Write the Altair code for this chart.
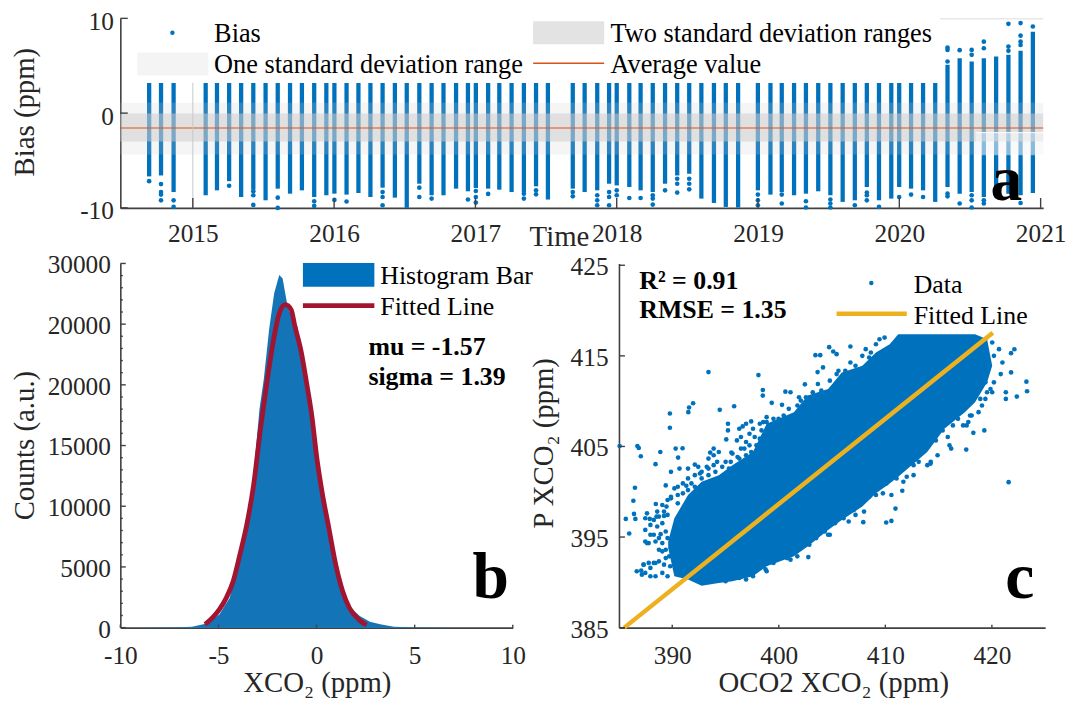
import altair as alt
import pandas as pd

SERIF = "Liberation Serif"
BLUE = "#0072BD"
AXC = "#404040"
TXT = "#262626"

# ---------- Panel a ----------
col_t = [2014.691,2014.775,2014.864,2015.091,2015.171,2015.257,2015.342,2015.428,2015.515,2015.601,2015.688,2015.772,2015.859,2015.945,
         2016.002,2016.088,2016.172,2016.257,2016.343,2016.43,2016.514,2016.603,2016.69,2016.774,2016.863,2016.947,
         2017.003,2017.09,2017.169,2017.256,2017.343,2017.429,2017.513,2017.689,2017.773,2017.862,2017.946,
         2018.0,2018.089,2018.169,2018.255,2018.342,2018.428,2018.513,2018.599,2018.688,2018.772,2018.859,2018.999,
         2019.088,2019.168,2019.255,2019.339,2019.426,2019.512,2019.599,2019.685,2019.77,2019.856,2019.943,2019.999,
         2020.083,2020.168,2020.254,2020.341,2020.427,2020.512,2020.598,2020.685,2020.772,2020.858,2020.945]
col_top = [3.18]*64 + [5.1,5.8,5.45,5.8,5.97,6.15,6.57,8.59]
col_end = [-6.68,-6.58,-8.33,-8.67,-8.15,-7.18,-8.85,-8.08,-9.2,-7.97,-8.5,-8.15,-8.85,-8.67,
           -8.5,-8.6,-8.43,-8.85,-7.87,-8.92,-10,-7.45,-8.67,-8.67,-7.97,-8.25,
           -7.9,-7.97,-8.08,-8.33,-8.33,-7.73,-9.12,-7.97,-8.33,-8.15,-7.45,
           -7.63,-7.8,-8.15,-8.33,-7.45,-6.58,-6.4,-9.02,-9.48,-9.9,-9.96,-8.15,
           -8.6,-8.33,-8.67,-8.5,-8.25,-8.67,-9.37,-9.2,-7.8,-9.2,-9.02,-7.8,
           -7.97,-8.15,-9.37,-7.8,-8.5,-8.33,-8.85,-8.5,-8.5,-8.67,-8.43]
out_t = [2014.691,2014.775,2014.775,2014.775,2014.775,2014.864,2014.864,2015.257,2015.428,2015.428,2015.428,2015.601,2015.601,
         2015.859,2015.859,2016.002,2016.088,2016.343,2016.343,2016.343,2016.603,2016.603,2016.69,2016.947,
         2017.003,2017.003,2017.003,2017.09,2017.343,2017.343,2017.429,2017.429,2017.689,2017.689,
         2017.862,2017.862,2017.862,2017.946,2017.946,2017.946,2018.0,2018.0,2018.089,2018.169,2018.255,2018.255,2018.255,
         2018.342,2018.428,2018.428,2018.428,2018.513,2018.513,2018.513,2018.999,2018.999,2018.999,
         2019.168,2019.168,2019.339,2019.339,2019.512,2019.512,2019.512,2019.685,2019.77,2019.77,2019.77,2019.856,
         2019.999,2020.083,2020.168,2020.341,2020.341,2020.341,2020.341,2020.341,2020.427,2020.427,
         2020.512,2020.512,2020.512,2020.512,2020.512,2020.598,2020.598,2020.598,2020.598,
         2020.772,2020.772,2020.772,2020.858,2020.858,2020.858,2020.858,2020.858,2020.945]
out_v = [-7.18,-7.49,-8.33,-8.6,-9.2,-9.2,-9.9,-7.66,-8.25,-8.67,-9.69,-8.92,-10,
         -9.3,-9.79,-9.16,-9.33,-8.33,-8.85,-9.72,-7.87,-8.85,-9.02,-9.12,
         -8.22,-8.85,-9.44,-8.53,-8.5,-9.02,-8.15,-8.57,-8.33,-8.78,
         -8.67,-9.2,-9.72,-8.33,-8.85,-9.72,-8.15,-8.67,-8.96,-8.96,-8.67,-9.02,-9.65,
         -8.15,-6.93,-7.45,-8.39,-6.93,-7.45,-8.04,-8.6,-9.2,-9.72,
         -8.6,-9.54,-9.3,-9.96,-9.12,-9.54,-9.96,-9.72,-8.39,-8.67,-9.2,-9.9,
         -8.85,-8.6,-8.85,6.91,6.67,5.45,-8.5,-8.78,6.64,-9.54,
         6.67,6.15,-8.67,-9.2,-9.96,7.54,6.84,-9.2,-9.54,
         9.42,7.02,6.57,9.5,8.17,7.54,7.19,-9.48,9.14]
years = [2015,2016,2017,2018,2019,2020,2021]
band_2sd = [-0.05,-3.0]
band_1sd = [1.09,-4.38]
mean_bias = -1.57
bias_ticks = [-10,0,10]

# ---------- Panel b ----------
hist_x = [-9,-7.04,-6.35,-5.65,-4.95,-4.43,-3.91,-3.56,-3.21,-2.91,-2.69,-2.42,-2.16,-1.9,-1.73,-1.46,-1.29,-1.15,-0.98,-0.77,-0.51,-0.24,0.02,0.28,0.63,0.98,1.33,1.67,2.2,2.72,3.24,3.94,4.81,7]
hist_y = [0,27,82,327,1090,2450,5730,8450,12540,17990,20450,24540,27540,29040,28770,26310,25770,24810,24810,22770,20040,17040,13630,11180,8450,5450,3130,1770,950,490,270,82,27,0]
fit_x = [-5.68,-5.3,-4.95,-4.6,-4.25,-3.91,-3.56,-3.21,-2.86,-2.51,-2.16,-1.9,-1.59,-1.29,-1.12,-0.77,-0.51,-0.24,0.02,0.28,0.63,0.98,1.33,1.67,2.2,2.55]
fit_y = [270,820,1500,2450,3820,6000,8450,11730,16360,20450,24000,25900,26600,26180,24950,22630,20180,17450,13900,11180,8180,5180,3000,1640,600,220]
b_xticks = [-10,-5,0,5,10]
b_yticks = [0,5000,10000,15000,20000,25000,30000]
b_minor = [v*1000 for v in range(0,31) if v % 5]

# ---------- Panel c ----------
cloud_x = [389.62,390.2,391.48,392.76,394.37,395.65,397.57,398.86,401.42,402.71,404.63,405.91,407.84,409.12,410.41,411.21,413.93,415.54,417.46,418.42,419.55,420.03]
cloud_hi = [394.51,397.07,399.64,401.1,401.83,402.93,404.39,407.5,408.78,410.61,411.34,413.17,413.9,415.37,416.28,417.38,417.38,417.38,417.38,417.38,416.83,413.9]
cloud_lo = [393.78,390.67,390.31,389.61,389.94,390.12,390.67,391.77,392.87,393.96,395.79,396.89,398.36,399.82,400.92,401.65,404.39,406.95,408.78,409.88,412.08,413.9]
pts_x = [385.06,386.73,386.86,387.05,386.5,386.35,386.41,385.64,386.54,385.96,388.43,388.88,389.78,389.78,391.51,391.58,391.96,393.4,398.09,395.81,394.46,390.32,390.97,390.55,389.39,388.46,
         421.57,423.24,423.3,422.34,421.8,422.11,421.8,419.29,417.59,418.26,410.08,410.57,407.93,402.77,401.74,398.76,410.95,411.59,404.73,405.11,405.43,403.44,403.89,406.72,402.45,403.64,404.15,
         398.5,398.5,399.34,400.3,400.62,401.1,401.9,395.23,395.23,396.61,397.41,398.54,395.07,396.07,396.93,398.22,393.89,393.56,395.55,396.29,392.12,391.48,390.68,389.88,391.32,390.52,389.88,389.46,390.52,
         387.63,388.53,387.47,387.63,387.31,386.67,387.95,388.75,389.07,388.43,387.95,387.15,
         420.03,420.99,420.83,421.31,421.31,420.03,419.39,418.1,417.3,416.18,414.25,412.65,410.57,409.12,407.2,404.63,402.71,
         387.47,387.89,388.27,388.75,389.23,389.56,389.07,388.59,388.27,388.91,389.39,389.56,387.47,387.79,389.07,389.39,389.72,388.75,388.27,387.79,387.31,387.09,387.47,388.43,389.07,389.56,389.81,389.23,
         389.88,390.52,391.0,391.48,392.12,392.76,393.4,394.05,394.85,395.33,395.97,392.12,392.76,393.4,393.89,394.37,395.01,395.65,396.45,396.93,397.25,397.74,398.54,396.29,396.93,397.58,398.22,398.86,399.5,400.46,401.75,402.55,403.19,403.99,404.79,405.43,406.24,407.2,407.84,408.64,409.12,409.93,410.73,
         419.39,419.87,418.91,419.07,417.95,417.79,416.82,416.34,415.38,415.86,414.74,414.26,413.13,412.65,412.01,411.05,410.09,408.48,407.52,407.04,406.08,405.27,404.31,403.51,402.07,400.78,399.5,397.58,396.29,395.01,
         392.44,393.24,391.48,391.0,390.2,391.8,392.6,394.21,394.69,393.4,393.89,395.49,396.13,396.77,397.41,397.9,398.38,397.25,396.45,398.86,399.98,400.94,402.07,403.67,405.6,406.72,408.16,408.48,409.45,
         388.59,389.07,389.56,389.23,387.95,388.43,388.75,389.39,387.95,
         420.19,419.55,418.75,417.63,416.02,414.9,413.94,411.69,409.77,408.0,406.56,404.79,402.87,401.1,398.86,396.93,420.67,420.19]
pts_y = [405.05,405.05,404.83,403.92,400.44,399.01,397.55,397.0,397.0,395.39,403.04,404.39,407.06,408.64,408.78,409.3,409.77,413.21,412.88,409.44,409.04,404.76,404.8,403.77,400.7,398.65,
         401.06,412.15,411.09,410.5,413.17,415.73,415.3,406.77,404.65,406.5,396.6,396.78,396.64,392.79,392.87,391.44,398.14,400.11,415.96,415.48,415.19,415.08,415.08,416.03,411.86,413.21,413.72,
         411.23,410.61,409.81,409.59,411.05,410.98,410.43,407.5,406.77,407.21,407.76,407.69,405.78,405.67,405.49,405.86,404.76,404.32,404.32,403.66,403.0,402.56,402.56,402.2,400.66,400.55,399.27,398.36,398.72,
         397.62,397.26,395.79,394.33,391.95,391.22,395.25,394.88,393.42,392.13,390.67,390.85,
         416.47,414.27,412.99,410.98,410.25,410.98,410.25,408.42,407.32,404.76,403.11,401.83,399.64,399.64,397.44,395.25,394.51,
         397.07,397.0,396.89,397.26,397.33,397.44,396.53,396.16,395.25,395.32,395.61,394.88,394.51,394.33,394.33,393.6,392.87,392.32,392.14,392.14,391.95,391.29,391.04,390.67,391.04,390.67,391.77,391.95,
         399.45,399.64,399.82,400.18,400.55,401.47,401.83,402.2,401.47,402.56,402.75,401.83,402.2,402.56,404.03,404.39,403.3,404.21,404.76,404.03,405.12,406.04,405.86,406.95,407.5,406.95,407.5,407.69,408.05,408.42,409.52,410.43,410.98,411.16,412.26,412.99,413.36,413.91,415.0,415.37,416.28,417.02,416.28,
         412.08,411.34,410.25,409.52,408.42,407.69,408.05,407.32,406.77,406.04,405.67,403.3,403.3,402.93,401.65,401.47,400.92,399.45,398.54,397.99,397.07,396.53,395.61,394.88,393.78,392.68,392.14,390.67,390.49,390.12,
         402.75,402.75,401.47,400.92,400.37,400.92,402.01,403.3,402.75,403.66,402.93,403.3,403.84,404.76,404.39,405.12,406.77,406.4,406.04,408.23,408.05,409.15,410.06,411.89,413.36,414.27,415.74,414.82,416.83,
         397.81,398.54,399.09,397.81,396.34,394.51,393.6,392.68,391.59,
         412.08,410.98,408.78,407.32,405.12,404.03,402.93,401.1,399.82,397.81,396.71,395.25,394.15,392.5,391.22,390.31,415.74,415.0]
line_x = [385.5,420.09]
line_y = [385,417.56]
c_xticks = [390,400,410,420]
c_yticks = [385,395,405,415,425]


def label(text, x, y, size=26.5, weight="normal", color="black", align="left", baseline="middle"):
    return alt.Chart(pd.DataFrame({"t": [text]})).mark_text(
        font=SERIF, fontSize=size, fontWeight=weight, color=color, align=align, baseline=baseline
    ).encode(x=alt.value(x), y=alt.value(y), text="t:N")


def swatch_rect(x, x2, y, y2, color):
    return alt.Chart(pd.DataFrame({"a": [0]})).mark_rect(color=color).encode(
        x=alt.value(x), x2=alt.value(x2), y=alt.value(y), y2=alt.value(y2))


def swatch_line(x, x2, y, color, w):
    return alt.Chart(pd.DataFrame({"a": [0]})).mark_rule(color=color, strokeWidth=w).encode(
        x=alt.value(x), x2=alt.value(x2), y=alt.value(y))


def swatch_dot(x, y):
    return alt.Chart(pd.DataFrame({"a": [0]})).mark_point(filled=True, color=BLUE, size=20, opacity=1).encode(
        x=alt.value(x), y=alt.value(y))


def xticks_in(vals, sx, h, n, color=AXC):
    return alt.Chart(pd.DataFrame({"v": vals})).mark_rule(color=color, strokeWidth=1.4).encode(
        x=alt.X("v:Q", scale=sx), y=alt.value(h), y2=alt.value(h - n))


def yticks_in(vals, sy, n, color=AXC):
    return alt.Chart(pd.DataFrame({"v": vals})).mark_rule(color=color, strokeWidth=1.4).encode(
        y=alt.Y("v:Q", scale=sy), x=alt.value(0), x2=alt.value(n))


def xaxis(vals, title, tx, ty, pad, expr="''+datum.value"):
    return alt.Axis(values=vals, title=title, titleX=tx, titleY=ty, titleFont=SERIF, titleFontSize=29,
                    titleFontWeight="normal", titleColor=TXT, titleAlign="center", titleBaseline="alphabetic",
                    labelFont=SERIF, labelFontSize=25.5, labelColor=TXT, labelPadding=pad, labelExpr=expr, labelAngle=0,
                    ticks=False, grid=False, domainColor=AXC, domainWidth=1.6, labelOverlap=False, labelFlush=False)


def yaxis(vals, title, tx, ty, pad, off, expr="''+datum.value"):
    return alt.Axis(values=vals, title=title, titleX=tx, titleY=ty, titleFont=SERIF, titleFontSize=29,
                    titleFontWeight="normal", titleColor=TXT, titleAngle=270, titleAlign="center", titleBaseline="alphabetic",
                    labelFont=SERIF, labelFontSize=25.5, labelColor=TXT, labelPadding=pad, labelExpr=expr, labelOffset=off,
                    ticks=False, grid=False, domainColor=AXC, domainWidth=1.6, labelOverlap=False, labelFlush=False)


# ---------- build panel a ----------
AW, AH = 930, 191
sxa = alt.Scale(domain=[2014.487, 2021.018], nice=False, zero=False)
sya = alt.Scale(domain=[-10, 10], nice=False, zero=False)
cols = pd.DataFrame({"t": col_t, "top": col_top, "end": col_end})
outs = pd.DataFrame({"t": out_t, "v": out_v})
a_cols = alt.Chart(cols).mark_rule(color=BLUE, strokeWidth=4.3).encode(
    x=alt.X("t:Q", scale=sxa, axis=xaxis(years, "Time", 442, 37.5, 13.5)),
    y=alt.Y("top:Q", scale=sya, axis=yaxis(bias_ticks, "Bias (ppm)", -87, 94, 7, 3)),
    y2="end:Q")
a_out = alt.Chart(outs).mark_point(filled=True, color=BLUE, size=22, opacity=1).encode(
    x=alt.X("t:Q", scale=sxa), y=alt.Y("v:Q", scale=sya))


def band(vals, op):
    return alt.Chart(pd.DataFrame({"a": [vals[0]], "b": [vals[1]]})).mark_rect(color="#CCCCCC", opacity=op).encode(
        x=alt.value(0), x2=alt.value(AW), y=alt.Y("a:Q", scale=sya), y2="b:Q")


a_mean = alt.Chart(pd.DataFrame({"v": [mean_bias]})).mark_rule(color="#D95319", strokeWidth=1.2).encode(
    x=alt.value(0), x2=alt.value(AW), y=alt.Y("v:Q", scale=sya))
a_patch = alt.Chart(pd.DataFrame({"a": [0]})).mark_rect(fill="white", fillOpacity=0.45).encode(
    x=alt.value(862), x2=alt.value(930), y=alt.value(115.2), y2=alt.value(138))
a_grid = alt.Chart(pd.DataFrame({"v": [2015]})).mark_rule(color="#C8C8C8", strokeWidth=1).encode(
    x=alt.X("v:Q", scale=sxa), y=alt.value(65), y2=alt.value(AH))
panel_a = alt.layer(
    a_cols, a_out, band(band_1sd, 0.2), band(band_2sd, 0.5), a_mean, a_patch, a_grid,
    swatch_line(862, 930, 115.2, "white", 1),
    xticks_in(years, sxa, AH, 10), yticks_in(bias_ticks, sya, 7.5),
    swatch_line(826, AW, 0.5, "#DCDCDC", 1),
    swatch_dot(52.5, 14.5), label("Bias", 94.5, 16),
    swatch_rect(17, 88.7, 34.5, 57.5, "#F4F4F4"), label("One standard deviation range", 94.5, 47),
    swatch_rect(416, 487.6, 3, 26, "#E3E3E3"), label("Two standard deviation ranges", 494, 16),
    swatch_line(416, 487.6, 45.2, "#D95319", 1.4), label("Average value", 494, 47),
    label("a", 877, 183.5, size=64, weight="bold", baseline="alphabetic"),
).properties(width=AW, height=AH)

# ---------- build panel b ----------
BW, BH = 395.5, 367
sxb = alt.Scale(domain=[-10, 10], nice=False, zero=False)
syb = alt.Scale(domain=[0, 30000], nice=False, zero=False)
hist = alt.Chart(pd.DataFrame({"x": hist_x, "y": hist_y})).mark_area(color="#1374B7", opacity=1, interpolate="linear").encode(
    x=alt.X("x:Q", scale=sxb, axis=xaxis(b_xticks, "XCO₂ (ppm)", 198, 64, 16.5)),
    y=alt.Y("y:Q", scale=syb, axis=yaxis(b_yticks, "Counts (a.u.)", -88, 183, 10, 1.5, "datum.value==25000?'20000':''+datum.value")))
fit = alt.Chart(pd.DataFrame({"x": fit_x, "y": fit_y})).mark_line(color="#A2142F", strokeWidth=4.8, interpolate="monotone").encode(
    x=alt.X("x:Q", scale=sxb), y=alt.Y("y:Q", scale=syb))
panel_b = alt.layer(
    hist, fit,
    xticks_in(b_xticks, sxb, BH, 3), yticks_in(b_yticks, syb, 5.5), yticks_in(b_minor, syb, 2.5),
    swatch_rect(184, 256, -0.5, 23.5, BLUE), label("Histogram Bar", 262, 13, size=26),
    swatch_line(184, 256, 42.5, "#A2142F", 4.8), label("Fitted Line", 262, 44, size=26),
    label("mu = -1.57", 250, 84, size=26, weight="bold"), label("sigma = 1.39", 250, 114, size=26, weight="bold"),
    label("b", 355, 336.7, size=66, weight="bold", baseline="alphabetic"),
).properties(width=BW, height=BH)

# ---------- build panel c ----------
CW, CH = 429.5, 367
sxc = alt.Scale(domain=[385, 425], nice=False, zero=False)
syc = alt.Scale(domain=[385, 425.2], nice=False, zero=False)
cloud = alt.Chart(pd.DataFrame({"x": cloud_x, "hi": cloud_hi, "lo": cloud_lo})).mark_area(color=BLUE, opacity=1).encode(
    x=alt.X("x:Q", scale=sxc, axis=xaxis(c_xticks, "OCO2 XCO₂ (ppm)", 216, 64, 16.5)),
    y=alt.Y("hi:Q", scale=syc, axis=yaxis(c_yticks, "P XCO₂ (ppm)", -66.7, 180.7, 11, 1.5)),
    y2="lo:Q")
pts = alt.Chart(pd.DataFrame({"x": pts_x, "y": pts_y})).mark_point(filled=True, color=BLUE, size=22, opacity=1).encode(
    x=alt.X("x:Q", scale=sxc), y=alt.Y("y:Q", scale=syc))
fline = alt.Chart(pd.DataFrame({"x": line_x, "y": line_y})).mark_line(color="#EDB120", strokeWidth=4.5).encode(
    x=alt.X("x:Q", scale=sxc), y=alt.Y("y:Q", scale=syc))
panel_c = alt.layer(
    cloud, pts, fline,
    xticks_in(c_xticks, sxc, CH, 3), yticks_in(c_yticks, syc, 6),
    label("R² = 0.91", 20.5, 17.7, size=26, weight="bold"), label("RMSE = 1.35", 20.5, 47.4, size=26, weight="bold"),
    swatch_dot(254.3, 19.7), label("Data", 297, 21.7, size=26),
    swatch_line(219.3, 290, 50.7, "#EDB120", 4.5), label("Fitted Line", 297, 52.7, size=26),
    label("c", 389.3, 336.7, size=66, weight="bold", baseline="alphabetic"),
).properties(width=CW, height=CH)

chart = alt.vconcat(
    panel_a,
    alt.hconcat(panel_b, panel_c, spacing=106.5, bounds="flush"),
    spacing=56, bounds="flush",
).properties(padding={"left": 2.2, "top": -1.25, "right": 0, "bottom": 0}, background="white").configure_view(stroke=None)

chart.save("out.html", embed_options={"renderer": "svg", "actions": False})
